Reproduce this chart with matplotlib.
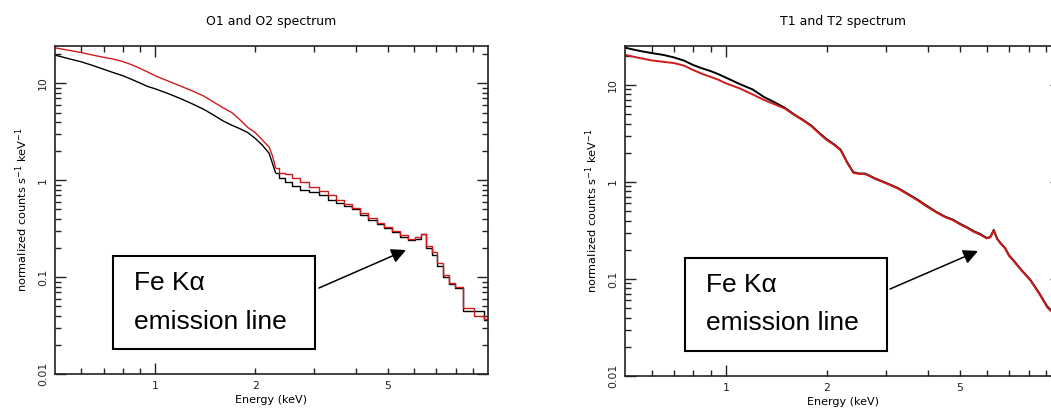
import matplotlib
matplotlib.use("Agg")
import matplotlib.pyplot as plt
from matplotlib import ticker
from matplotlib.patches import Rectangle, FancyArrowPatch

# ---------------- data ----------------
titles = ["O1 and O2 spectrum", "T1 and T2 spectrum"]
xlabel = "Energy (keV)"
ylabel = r"normalized counts s$^{-1}$ keV$^{-1}$"
annot_lines = ["Fe K\u03b1", "emission line"]

energy_o = [0.50, 0.55, 0.60, 0.65, 0.70, 0.75, 0.80, 0.85, 0.90, 0.95, 1.00, 1.10,
            1.20, 1.30, 1.40, 1.50, 1.60, 1.70, 1.80, 1.90, 2.00, 2.10, 2.20, 2.25,
            2.30, 2.40, 2.50, 2.65, 2.80, 3.00, 3.20, 3.40, 3.60, 3.80, 4.00, 4.25,
            4.50, 4.75, 5.00, 5.30, 5.60, 5.90, 6.15, 6.40, 6.65, 6.90, 7.20, 7.50,
            7.80, 8.10, 8.70, 9.40, 10.0]
o1_counts = [19.6, 18.0, 16.7, 15.3, 14.0, 12.9, 12.0, 11.0, 10.1, 9.3, 8.8, 7.8,
             6.9, 6.1, 5.4, 4.7, 4.1, 3.7, 3.4, 3.1, 2.7, 2.3, 1.9, 1.5,
             1.2, 1.05, 0.95, 0.88, 0.80, 0.75, 0.70, 0.63, 0.58, 0.54, 0.50, 0.44,
             0.39, 0.35, 0.32, 0.29, 0.26, 0.24, 0.25, 0.28, 0.20, 0.17, 0.13, 0.10,
             0.085, 0.078, 0.045, 0.045, 0.036]
o2_counts = [23.3, 22.0, 20.8, 19.6, 18.6, 17.8, 16.8, 15.6, 14.3, 13.1, 12.0, 10.5,
             9.3, 8.3, 7.4, 6.4, 5.6, 5.0, 4.2, 3.5, 3.1, 2.6, 2.2, 1.8,
             1.35, 1.2, 1.15, 1.05, 0.95, 0.85, 0.78, 0.70, 0.63, 0.57, 0.52, 0.46,
             0.41, 0.36, 0.33, 0.30, 0.27, 0.245, 0.26, 0.28, 0.21, 0.18, 0.14, 0.105,
             0.088, 0.080, 0.048, 0.040, 0.037]

energy_t = [0.50, 0.55, 0.60, 0.65, 0.70, 0.75, 0.80, 0.85, 0.90, 0.95, 1.00, 1.10,
            1.20, 1.30, 1.40, 1.50, 1.60, 1.70, 1.80, 1.90, 2.00, 2.10, 2.20, 2.30,
            2.40, 2.50, 2.60, 2.80, 3.00, 3.25, 3.50, 3.75, 4.00, 4.25, 4.50, 4.75,
            5.00, 5.25, 5.50, 5.75, 6.00, 6.15, 6.30, 6.45, 6.60, 6.80, 7.00, 7.20,
            7.60, 8.10, 8.60, 9.10, 9.50, 10.0]
t1_counts = [24.2, 22.5, 21.3, 20.4, 19.2, 17.8, 16.0, 14.8, 13.9, 12.9, 11.9, 10.2,
             9.0, 7.5, 6.6, 5.8, 4.95, 4.35, 3.8, 3.2, 2.75, 2.45, 2.15, 1.6,
             1.26, 1.22, 1.22, 1.08, 0.98, 0.87, 0.75, 0.65, 0.56, 0.49, 0.44, 0.41,
             0.37, 0.34, 0.31, 0.29, 0.265, 0.27, 0.32, 0.26, 0.235, 0.21, 0.175, 0.157,
             0.125, 0.098, 0.072, 0.052, 0.045, 0.038]
t2_counts = [20.4, 19.0, 17.9, 17.3, 16.8, 15.8, 14.2, 13.0, 12.1, 11.3, 10.4, 9.2,
             8.0, 7.0, 6.3, 5.7, 4.9, 4.3, 3.75, 3.15, 2.7, 2.42, 2.12, 1.58,
             1.24, 1.21, 1.21, 1.07, 0.97, 0.86, 0.74, 0.64, 0.55, 0.485, 0.435, 0.405,
             0.365, 0.335, 0.305, 0.285, 0.262, 0.268, 0.315, 0.258, 0.232, 0.208, 0.173, 0.155,
             0.124, 0.097, 0.071, 0.051, 0.044, 0.037]

x_major = [1]
x_minor = [0.6, 0.7, 0.8, 0.9, 2, 3, 4, 5, 6, 7, 8, 9]
x_minor_labels = {2: "2", 5: "5"}
y_major = [0.01, 0.1, 1, 10]
y_major_labels = ["0.01", "0.1", "1", "10"]

RED = "#d11a1a"

fig = plt.figure(figsize=(10.51, 4.12), dpi=100)

panels = [
    dict(rect=[0.0523, 0.0922, 0.412, 0.796], title=titles[0], e=energy_o,
         series=[(o1_counts, "black"), (o2_counts, RED)], ymax=24.3, step_from=2.3,
         box=(0.1075, 0.1529), text_x=0.1275, arrow=((0.3035, 0.301), (0.3863, 0.3932)),
         ty=(0.3131, 0.2184)),
    dict(rect=[0.5947, 0.0874, 0.4148, 0.801], title=titles[1], e=energy_t,
         series=[(t1_counts, "black"), (t2_counts, RED)], ymax=25.2, step_from=None,
         box=(0.6518, 0.148), text_x=0.6717, arrow=((0.8468, 0.2985), (0.9305, 0.3908)),
         ty=(0.3083, 0.216)),
]

for p in panels:
    ax = fig.add_axes(p["rect"])
    e = p["e"]
    for vals, col in p["series"]:
        if p["step_from"] is not None:
            k = e.index(p["step_from"])
            ax.plot(e[:k + 1], vals[:k + 1], color=col, lw=1.0)
            ax.plot(e[k:], vals[k:], color=col, lw=1.0, drawstyle="steps-mid")
        else:
            ax.plot(e, vals, color=col, lw=1.4)
    ax.set_xscale("log")
    ax.set_yscale("log")
    ax.set_xlim(0.5, 10)
    ax.set_ylim(0.01, p["ymax"])
    ax.xaxis.set_major_locator(ticker.FixedLocator(x_major))
    ax.xaxis.set_major_formatter(ticker.FixedFormatter(["1"]))
    ax.xaxis.set_minor_locator(ticker.FixedLocator(x_minor))
    ax.xaxis.set_minor_formatter(ticker.FuncFormatter(
        lambda v, pos: x_minor_labels.get(int(round(v)) if abs(v - round(v)) < 1e-6 else -1, "")))
    ax.yaxis.set_major_locator(ticker.FixedLocator(y_major))
    ax.yaxis.set_major_formatter(ticker.FixedFormatter(y_major_labels))
    ax.yaxis.set_minor_locator(ticker.LogLocator(base=10, subs=range(2, 10)))
    ax.yaxis.set_minor_formatter(ticker.NullFormatter())
    ax.tick_params(which="both", direction="in", top=True, right=True, labelsize=7.8,
                   width=1.0, colors="#222222")
    ax.tick_params(which="major", length=8, pad=5)
    ax.tick_params(which="minor", length=4, pad=5)
    for lab in ax.get_yticklabels():
        lab.set_rotation(90)
        lab.set_va("center")
    for sp in ax.spines.values():
        sp.set_linewidth(1.2)
        sp.set_color("#222222")
    ax.set_xlabel(xlabel, fontsize=8, labelpad=3)
    ax.set_ylabel(ylabel, fontsize=8.2, labelpad=6)
    cx = p["rect"][0] + p["rect"][2] / 2
    fig.text(cx, 0.949, p["title"], ha="center", va="center", fontsize=9)

    # annotation box
    bx, by = p["box"]
    fig.patches.append(Rectangle((bx, by), 0.1922, 0.2257, transform=fig.transFigure,
                                 facecolor="white", edgecolor="black", lw=1.5, zorder=5))
    fig.text(p["text_x"], p["ty"][0], annot_lines[0], ha="left", va="center",
             fontsize=19, family="Liberation Sans", zorder=6)
    fig.text(p["text_x"], p["ty"][1], annot_lines[1], ha="left", va="center",
             fontsize=19, family="Liberation Sans", zorder=6)
    (x0, y0), (x1, y1) = p["arrow"]
    fig.add_artist(FancyArrowPatch(
        (x0, y0), (x1, y1), transform=fig.transFigure, arrowstyle="-|>",
        mutation_scale=22, lw=1.1, color="black", shrinkA=0, shrinkB=0, zorder=6))

fig.savefig("out.png", dpi=100)
